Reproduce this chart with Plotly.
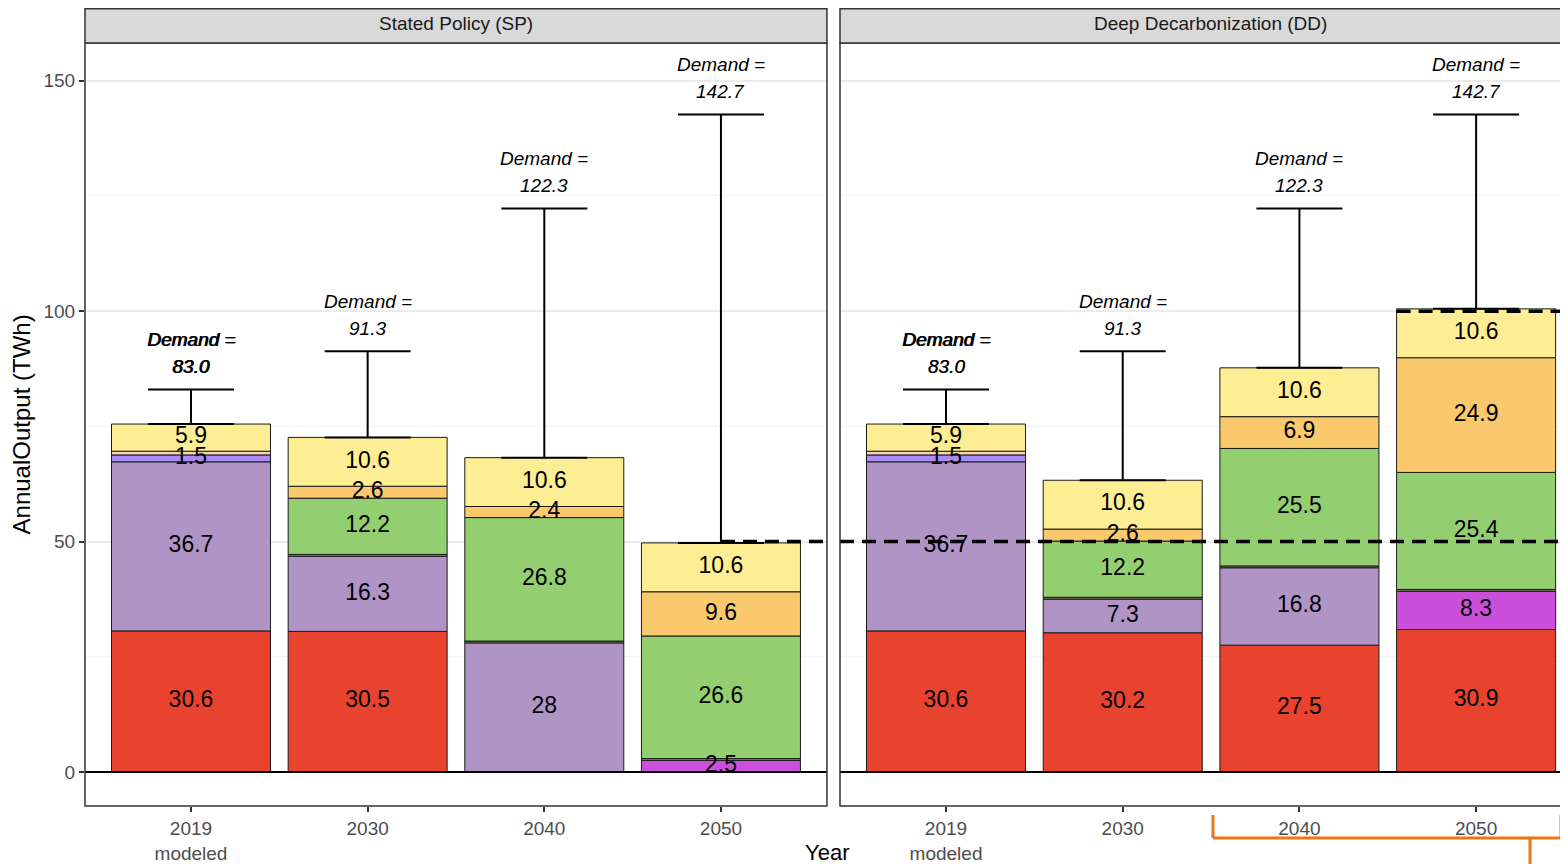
import numpy as np
import plotly.graph_objects as go

# categories
years = ["2019<br>modeled", "2030", "2040", "2050"]
facets = ["Stated Policy (SP)", "Deep Decarbonization (DD)"]

# stacked segments, bottom to top
layers = ["red", "purple", "magenta", "other", "green", "orange", "lavender", "peach", "yellow"]
colors = {
    "red": "#e8432f",
    "purple": "#b194c6",
    "magenta": "#cc4fdc",
    "other": "#86866a",
    "green": "#93cf71",
    "orange": "#fbc96d",
    "lavender": "#a78cf6",
    "peach": "#fcd3b0",
    "yellow": "#fdee93",
}

sp_red = [30.6, 30.5, None, None]
sp_purple = [36.7, 16.3, 28.0, None]
sp_magenta = [None, None, None, 2.5]
sp_other = [None, 0.4, 0.4, 0.4]
sp_green = [None, 12.2, 26.8, 26.6]
sp_orange = [None, 2.6, 2.4, 9.6]
sp_lavender = [1.5, None, None, None]
sp_peach = [0.8, None, None, None]
sp_yellow = [5.9, 10.6, 10.6, 10.6]

dd_red = [30.6, 30.2, 27.5, 30.9]
dd_purple = [36.7, 7.3, 16.8, None]
dd_magenta = [None, None, None, 8.3]
dd_other = [None, 0.4, 0.4, 0.4]
dd_green = [None, 12.2, 25.5, 25.4]
dd_orange = [None, 2.6, 6.9, 24.9]
dd_lavender = [1.5, None, None, None]
dd_peach = [0.8, None, None, None]
dd_yellow = [5.9, 10.6, 10.6, 10.6]

demand = [83.0, 91.3, 122.3, 142.7]

sp = [sp_red, sp_purple, sp_magenta, sp_other, sp_green, sp_orange, sp_lavender, sp_peach, sp_yellow]
dd = [dd_red, dd_purple, dd_magenta, dd_other, dd_green, dd_orange, dd_lavender, dd_peach, dd_yellow]

FONT = "Liberation Sans, Arial, sans-serif"
xpos = np.arange(len(years))

fig = go.Figure()

for k, data in enumerate([sp, dd]):
    xa = "x" if k == 0 else "x2"
    ya = "y" if k == 0 else "y2"
    base = np.zeros(len(years))
    lx, ly, lt = [], [], []
    for name, vals in zip(layers, data):
        v = np.array([np.nan if a is None else a for a in vals])
        fig.add_trace(go.Bar(x=xpos, y=v, base=np.where(np.isnan(v), np.nan, base), width=0.9,
                             marker=dict(color=colors[name], line=dict(color="#1a1a1a", width=1)),
                             xaxis=xa, yaxis=ya, showlegend=False, name=name))
        for i in range(len(years)):
            if not np.isnan(v[i]) and v[i] >= 1:
                lx.append(xpos[i])
                ly.append(base[i] + v[i] / 2)
                lt.append(f"{v[i]:g}")
        base = base + np.nan_to_num(v)
    # segment labels
    fig.add_trace(go.Scatter(x=lx, y=ly, text=lt, mode="text", xaxis=xa, yaxis=ya,
                             textfont=dict(size=23, color="black", family=FONT), showlegend=False))
    # demand whiskers
    fig.add_trace(go.Scatter(x=xpos, y=base, mode="markers", marker=dict(size=1, color="rgba(0,0,0,0)"),
                             error_y=dict(type="data", symmetric=False, array=np.array(demand) - base,
                                          arrayminus=[0] * 4, color="black", thickness=2, width=43),
                             xaxis=xa, yaxis=ya, showlegend=False))
    for i, d in enumerate(demand):
        shifts = [0, 0.7] if i == 0 else [0]
        for s in shifts:
            fig.add_annotation(x=xpos[i], y=d, xref=xa, yref=ya, text="<i>Demand =</i>", showarrow=False,
                               yshift=50, xshift=s, yanchor="middle",
                               font=dict(size=19, color="black", family=FONT))
            fig.add_annotation(x=xpos[i], y=d, xref=xa, yref=ya, text=f"<i>{d:.1f}</i>", showarrow=False,
                               yshift=23, xshift=s, yanchor="middle",
                               font=dict(size=19, color="black", family=FONT))
    # zero line
    fig.add_shape(type="line", xref=xa + " domain", x0=0, x1=1, yref=ya, y0=0, y1=0,
                  line=dict(color="black", width=2))

# dashed reference lines
dash = dict(color="black", width=3.5, dash="14px,8px")
fig.add_shape(type="line", xref="x", yref="y", x0=3, x1=3.6, y0=50, y1=50, line=dash)
fig.add_shape(type="line", xref="x2", yref="y2", x0=-0.6, x1=3.6, y0=50, y1=50, line=dash)
fig.add_shape(type="line", xref="x2", yref="y2", x0=2.55, x1=3.6, y0=100, y1=100, line=dash)

# panel borders and strips
sp_dom = [0, 0.5003]
dd_dom = [0.5091, 1.0]
for dom, title in zip([sp_dom, dd_dom], facets):
    x1 = dom[1] if dom[0] == 0 else 1.02
    fig.add_shape(type="rect", xref="paper", yref="paper", x0=dom[0], x1=x1, y0=0, y1=1,
                  line=dict(color="#333333", width=1.5), layer="above")
    fig.add_shape(type="rect", xref="paper", yref="paper", x0=dom[0], x1=x1, y0=1, y1=1.045,
                  fillcolor="#d9d9d9", line=dict(color="#333333", width=1.5))
    fig.add_annotation(x=(dom[0] + (dom[1] if dom[0] == 0 else 1.0094)) / 2, y=1.025, xref="paper", yref="paper",
                       xanchor="center", yanchor="middle",
                       text=title, showarrow=False, font=dict(size=19, color="#1a1a1a", family=FONT))

# orange bracket
orange = "#f07416"
fig.add_shape(type="line", xref="paper", yref="paper", x0=0.7606, x1=0.9953, y0=-0.0419, y1=-0.0419,
              line=dict(color=orange, width=3))
fig.add_shape(type="line", xref="paper", yref="paper", x0=0.7606, x1=0.7606, y0=-0.0419, y1=-0.0118,
              line=dict(color=orange, width=3))
fig.add_shape(type="line", xref="paper", yref="paper", x0=0.9953, x1=0.9953, y0=-0.0419, y1=-0.0118,
              line=dict(color=orange, width=3))
fig.add_shape(type="line", xref="paper", yref="paper", x0=0.9744, x1=0.9744, y0=-0.0419, y1=-0.09,
              line=dict(color=orange, width=3))

# axis titles
fig.add_annotation(x=0.5, y=-0.0603, xref="paper", yref="paper", text="Year", showarrow=False,
                   xanchor="center", yanchor="middle", font=dict(size=22, color="black", family=FONT))
fig.add_annotation(x=-0.0425, y=0.5, xref="paper", yref="paper", text="AnnualOutput (TWh)", textangle=-90,
                   xanchor="center", yanchor="middle", showarrow=False,
                   font=dict(size=24, color="black", family=FONT))

xcommon = dict(tickvals=list(xpos), ticktext=years, ticks="outside", ticklen=5, tickwidth=1.5,
               tickcolor="#333333", showgrid=False, zeroline=False,
               tickfont=dict(size=19, color="#4d4d4d", family=FONT))
ycommon = dict(range=[-7.4, 158.2], tickvals=[0, 50, 100, 150], showgrid=True, gridcolor="#ebebeb",
               gridwidth=1.5, zeroline=False,
               minor=dict(dtick=25, tick0=0, showgrid=True, gridcolor="#f4f4f4", gridwidth=1))

# page body has an 8px margin, so the figure is sized 8px smaller
fig.update_layout(
    width=1560, height=856, barmode="overlay", plot_bgcolor="white", paper_bgcolor="white",
    margin=dict(l=77, r=0, t=35, b=58), showlegend=False,
    xaxis=dict(domain=sp_dom, range=[-0.6, 3.6], anchor="y", **xcommon),
    xaxis2=dict(domain=dd_dom, range=[-0.6, 3.52], anchor="y2", **xcommon),
    yaxis=dict(anchor="x", ticks="outside", ticklen=5, tickwidth=1.5, tickcolor="#333333",
               tickfont=dict(size=19, color="#4d4d4d", family=FONT), **ycommon),
    yaxis2=dict(anchor="x2", matches="y", showticklabels=False, ticks="", **ycommon),
)

fig.write_html("out.html")
